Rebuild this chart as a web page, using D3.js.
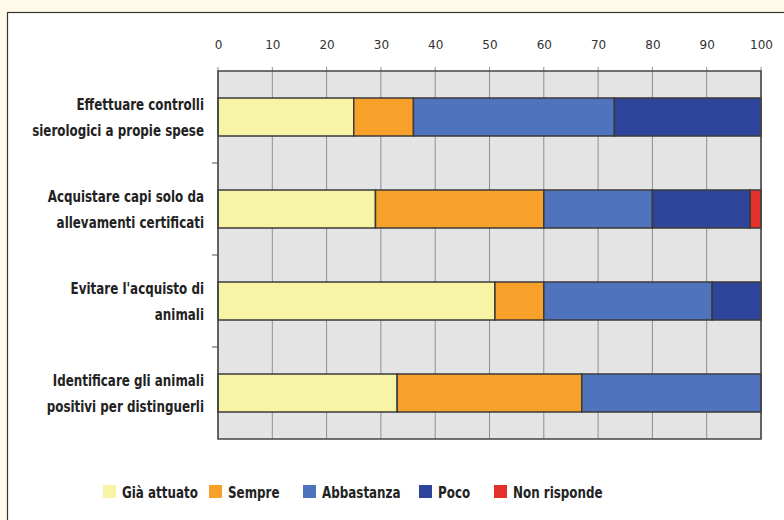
<!DOCTYPE html>
<html><head><meta charset="utf-8">
<script src="https://cdn.jsdelivr.net/npm/d3@7"></script>
<style>
html,body{margin:0;padding:0;background:#fffbe8;}
svg{display:block;}
.lbl{font-family:'DejaVu Sans',sans-serif;font-weight:bold;}
</style></head>
<body>
<svg id="chart" width="784" height="520"></svg>
<script>
const categories = [
  ["Effettuare controlli", "sierologici a propie spese"],
  ["Acquistare capi solo da", "allevamenti certificati"],
  ["Evitare l'acquisto di", "animali"],
  ["Identificare gli animali", "positivi per distinguerli"]
];
const seriesNames = ["Già attuato", "Sempre", "Abbastanza", "Poco", "Non risponde"];
const giaAttuato  = [25, 29, 51, 33];
const sempre      = [11, 31, 9, 34];
const abbastanza  = [37, 20, 31, 33];
const poco        = [27, 18, 9, 0];
const nonRisponde = [0, 2, 0, 0];
const colors = ["#f8f4a6", "#f7a12b", "#4f74bd", "#2f459c", "#e2302a"];
const xTicks = [0,10,20,30,40,50,60,70,80,90,100];

const rows = categories.map((c,i)=>({
  key: i,
  "Già attuato": giaAttuato[i], "Sempre": sempre[i], "Abbastanza": abbastanza[i],
  "Poco": poco[i], "Non risponde": nonRisponde[i]
}));

const svg = d3.select("#chart");
// panel
svg.append("rect").attr("x",7.5).attr("y",12.5).attr("width",800).attr("height",540)
  .attr("fill","#ffffff").attr("stroke","#333").attr("stroke-width",1.2);

const pLeft = 218, pRight = 761, pTop = 71, pBottom = 439;
const x = d3.scaleLinear().domain([0,100]).range([pLeft,pRight]);
const y = d3.scaleBand().domain(d3.range(categories.length)).range([pTop,pBottom])
  .paddingInner(0.587).paddingOuter(0.2935);

// plot background
svg.append("rect").attr("x",pLeft).attr("y",pTop).attr("width",pRight-pLeft).attr("height",pBottom-pTop)
  .attr("fill","#e4e4e4");

// grid
svg.append("g").selectAll("line").data(xTicks).join("line")
  .attr("x1",d=>x(d)).attr("x2",d=>x(d)).attr("y1",pTop-4).attr("y2",pBottom)
  .attr("stroke","#8f8f8f").attr("stroke-width",1);

// top axis labels
const xAxis = d3.axisTop(x).tickValues(xTicks).tickSize(0).tickPadding(0);
const gx = svg.append("g").attr("transform",`translate(0,${pTop-20})`).call(xAxis);
gx.select(".domain").remove();
gx.selectAll("text").attr("font-family","'DejaVu Sans',sans-serif")
  .attr("font-size",12).attr("fill","#333").attr("dy",0).attr("y",-2)
  .attr("transform","scale(1,1)");

// stacked bars
const stack = d3.stack().keys(seriesNames)(rows);
svg.append("g").selectAll("g").data(stack).join("g")
  .attr("fill",(d,i)=>colors[i])
  .selectAll("rect").data(d=>d.filter(s=>s[1]-s[0]>0)).join("rect")
  .attr("x",d=>x(d[0])).attr("width",d=>x(d[1])-x(d[0]))
  .attr("y",(d)=>y(d.data.key)).attr("height",y.bandwidth())
  .attr("stroke","#3a3a3a").attr("stroke-width",1.5);

// plot border
svg.append("rect").attr("x",pLeft).attr("y",pTop).attr("width",pRight-pLeft).attr("height",pBottom-pTop)
  .attr("fill","none").attr("stroke","#444").attr("stroke-width",1.5);

// category ticks between bands
const boundaries = d3.range(1,categories.length).map(i=>y(i)-y.step()*y.paddingInner()/2);
svg.append("g").selectAll("line").data(boundaries).join("line")
  .attr("x1",pLeft-6).attr("x2",pLeft).attr("y1",d=>d).attr("y2",d=>d)
  .attr("stroke","#555").attr("stroke-width",1);

// category labels (condensed by horizontal scaling)
const labG = svg.append("g");
const lab = labG.selectAll("text").data(categories).join("text")
  .attr("class","lbl").attr("text-anchor","end")
  .attr("font-size",16).attr("fill","#222");
lab.each(function(d,i){
  const cy = y(i)+y.bandwidth()/2;
  d3.select(this).selectAll("tspan").data(d).join("tspan")
    .attr("x",0).attr("y",(t,j)=>cy + (j-0.5)*26 + 6).text(t=>t);
});
// measure the longest line and condense to the reference's narrow face
let maxW = 0;
lab.selectAll("tspan").each(function(){ maxW = Math.max(maxW, this.getComputedTextLength()); });
const sx = 172 / maxW;
lab.attr("transform",`translate(204,0) scale(${sx},1)`);

// legend
const legX = [103, 209, 303, 419, 494];
const lg = svg.append("g").selectAll("g").data(seriesNames).join("g")
  .attr("transform",(d,i)=>`translate(${legX[i]},485)`);
lg.append("rect").attr("width",13).attr("height",13).attr("fill",(d,i)=>colors[i]);
lg.append("text").attr("class","lbl")
  .attr("transform",`translate(19,12.5) scale(${sx},1)`)
  .attr("font-size",16).attr("fill","#222").text(d=>d);
</script>
</body></html>
